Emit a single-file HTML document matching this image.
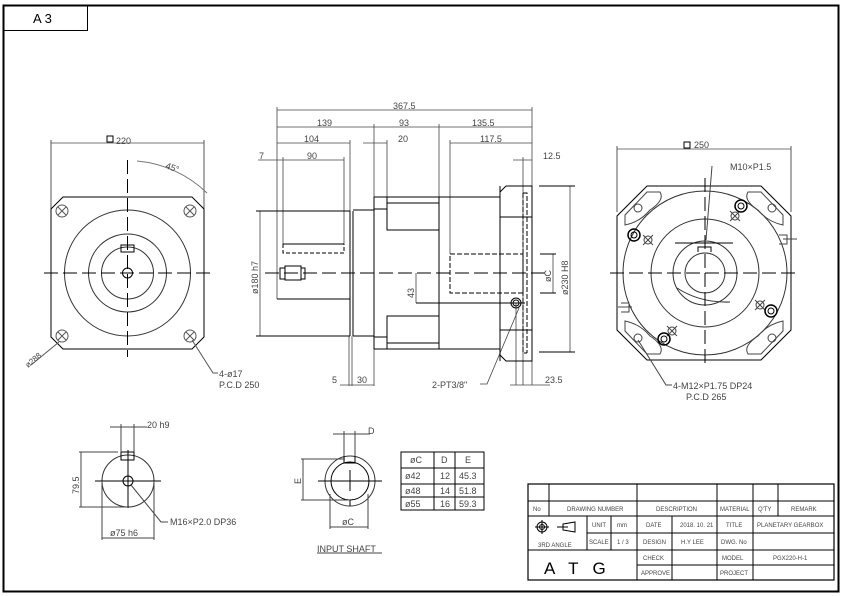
<!DOCTYPE html>
<html><head><meta charset="utf-8"><style>
html,body{margin:0;padding:0;background:#fff;}
svg{display:block;}
text{font-family:"Liberation Sans",sans-serif;fill:#444;}
</style></head><body>
<svg width="842" height="596" viewBox="0 0 842 596" xmlns="http://www.w3.org/2000/svg">
<rect x="0" y="0" width="842" height="596" fill="#fff"/>
<!-- frame -->
<rect x="3.5" y="5.5" width="835" height="586" fill="none" stroke="#000" stroke-width="2"/>
<rect x="3.5" y="5.5" width="84" height="25" fill="none" stroke="#000" stroke-width="1"/>
<text x="33" y="23" font-size="13" style="fill:#000">A 3</text>

<g fill="none" stroke="#000" stroke-width="1">
<!-- LEFT VIEW -->
<line x1="51" y1="143" x2="204" y2="143" stroke="#777"/>
<line x1="51" y1="140" x2="51" y2="210" stroke="#555"/>
<line x1="204" y1="140" x2="204" y2="210" stroke="#555"/>
<path d="M63 197 H192 L204 209 V337 L192 349 H63 L51 337 V209 Z"/>
<circle cx="127.5" cy="273" r="63" stroke="#333"/>
<circle cx="127.5" cy="273" r="39" stroke="#333"/>
<circle cx="127.5" cy="273" r="26" stroke="#333"/>
<circle cx="127.5" cy="273" r="5"/>
<rect x="121" y="245" width="13" height="7"/>
<line x1="44" y1="273" x2="212" y2="273" stroke-dasharray="14,5"/>
<line x1="127.5" y1="160" x2="127.5" y2="357" stroke-dasharray="14,5"/>
<path d="M137 161 A115 115 0 0 1 207 193" stroke="#777"/>
<g stroke="#555">
<circle cx="62" cy="211" r="6"/><path d="M58 207 l8 8 M66 207 l-8 8"/>
<circle cx="190" cy="211" r="6"/><path d="M186 207 l8 8 M194 207 l-8 8"/>
<circle cx="62" cy="336" r="6"/><path d="M58 332 l8 8 M66 332 l-8 8"/>
<circle cx="190" cy="336" r="6"/><path d="M186 332 l8 8 M194 332 l-8 8"/>
<path d="M192 340 L213 373 H218"/>
<path d="M59 342 L31 365"/>
</g>
<rect x="107" y="136" width="6" height="6" stroke="#000"/>

<!-- MIDDLE VIEW dims -->
<g stroke="#444" stroke-width="0.8">
<line x1="277" y1="110" x2="532" y2="110"/>
<line x1="277" y1="127" x2="532" y2="127"/>
<line x1="277" y1="143" x2="350" y2="143"/>
<line x1="363" y1="143" x2="387" y2="143"/>
<line x1="450" y1="143" x2="532" y2="143"/>
<line x1="258" y1="160" x2="344" y2="160"/>
<line x1="513" y1="160" x2="532" y2="160"/>
<line x1="277" y1="107" x2="277" y2="299"/>
<line x1="532" y1="107" x2="532" y2="385"/>
<line x1="374" y1="124" x2="374" y2="197"/>
<line x1="439" y1="124" x2="439" y2="197"/>
<line x1="350" y1="140" x2="350" y2="211"/>
<line x1="387" y1="140" x2="387" y2="197"/>
<line x1="450" y1="140" x2="450" y2="254"/>
<line x1="283" y1="157" x2="283" y2="245"/>
<line x1="344" y1="157" x2="344" y2="245"/>
<line x1="523" y1="157" x2="523" y2="385"/>
<line x1="260" y1="211" x2="260" y2="336"/>
<line x1="570" y1="186" x2="570" y2="352"/>
<line x1="553" y1="254" x2="553" y2="293"/>
<line x1="416" y1="273" x2="416" y2="303"/>
<line x1="349" y1="336" x2="349" y2="386"/>
<line x1="352" y1="336" x2="352" y2="386"/>
<line x1="374" y1="349" x2="374" y2="386"/>
<line x1="340" y1="385" x2="374" y2="385"/>
<line x1="510" y1="385" x2="550" y2="385"/>
<line x1="516" y1="303" x2="516" y2="385"/>
<path d="M519 308 L487 384 H480"/>
</g>
<!-- MIDDLE VIEW body -->
<path d="M256 211 H350 M256 336 H350 M277 299 H350"/>
<path d="M350 211 V336 M353 211 V336"/>
<rect x="283" y="160" width="61" height="85" stroke="none"/>
<path d="M283 244 V253 H344 V244" stroke-dasharray="4,2"/>
<path d="M283 244 H344"/>
<path d="M280 268 h5 v11 h-5 Z M285 266 h16 v14 h-16 Z M301 268 h4 v11 h-4"/>
<path d="M353 210 H374 M353 336 H374"/>
<path d="M374 197 H500 M374 349 H500 M374 197 V349 M439 197 V349"/>
<path d="M374 209 H387 V230 H439 M387 209 V197 M387 203 H439"/>
<path d="M374 337 H387 V316 H439 M387 337 V349 M387 343 H439"/>
<path d="M500 186 V361 M506 186 H532 V361 H506 L500 355 M500 192 L506 186"/>
<path d="M500 217 H532 M500 330 H532"/>
<path d="M523 193 V353 H527 M523 193 H527 V353" stroke-dasharray="5,2"/>
<path d="M450 254 H523 V293 H450 Z" stroke-dasharray="5,2"/>
<line x1="265" y1="273" x2="545" y2="273" stroke-dasharray="14,5"/>
<line x1="416" y1="303" x2="525" y2="303"/>
<circle cx="516" cy="303" r="5"/><circle cx="516" cy="303" r="3"/>
<path d="M539 186 H575 M539 352 H575 M540 254 H556 M540 293 H556"/>

<!-- RIGHT VIEW -->
<line x1="617" y1="149" x2="791" y2="149" stroke="#777"/>
<line x1="617" y1="146" x2="617" y2="212" stroke="#555"/>
<line x1="791" y1="146" x2="791" y2="212" stroke="#555"/>
<rect x="684" y="142" width="6" height="6"/>
<path d="M647 186 H761 L791 216 V330 L761 360 H647 L617 330 V216 Z"/>
<circle cx="705" cy="273" r="82" stroke="#333"/>
<circle cx="705" cy="273" r="54" stroke="#333"/>
<circle cx="705" cy="273" r="32" stroke="#333"/>
<circle cx="705" cy="273" r="20" stroke="#333"/>
<path d="M677 288 Q700 303 730 302" stroke="#333"/>
<path d="M698 252 V247 H711 V252" />
<line x1="610" y1="273" x2="800" y2="273" stroke-dasharray="14,5"/>
<line x1="705" y1="178" x2="705" y2="368" stroke-dasharray="14,5"/>
<line x1="675" y1="243" x2="733" y2="243"/>
<g stroke="#444">
<path d="M647 192 H660 Q665 200 650 210 Q640 222 625 225 V215 Z"/>
<path d="M761 192 H748 Q743 200 758 210 Q768 222 783 225 V215 Z"/>
<path d="M647 354 H660 Q665 346 650 336 Q640 324 625 321 V331 Z"/>
<path d="M761 354 H748 Q743 346 758 336 Q768 324 783 321 V331 Z"/>
<circle cx="638" cy="208" r="4"/><circle cx="772" cy="208" r="4"/>
<circle cx="638" cy="338" r="4"/><circle cx="772" cy="338" r="4"/>
<circle cx="648" cy="240" r="4"/><circle cx="735" cy="216" r="4"/>
<circle cx="760" cy="305" r="4"/><circle cx="672" cy="331" r="4"/>
<path d="M643 235 l10 10 M653 235 l-10 10 M730 211 l10 10 M740 211 l-10 10 M755 300 l10 10 M765 300 l-10 10 M667 326 l10 10 M677 326 l-10 10"/>
<path d="M712 166 L706 240 M638 340 L666 385 H672"/>
<path d="M783 239 H797 M618 307 H632 M779 235 h8 v9 h-8 M621 303 h8 v9 h-8"/>
</g>
<circle cx="634" cy="235" r="6" stroke-width="1.5"/><circle cx="634" cy="235" r="3"/>
<circle cx="741" cy="206" r="6" stroke-width="1.5"/><circle cx="741" cy="206" r="3"/>
<circle cx="771" cy="311" r="6" stroke-width="1.5"/><circle cx="771" cy="311" r="3"/>
<circle cx="664" cy="339" r="6" stroke-width="1.5"/><circle cx="664" cy="339" r="3"/>

<!-- BOTTOM LEFT -->
<circle cx="128" cy="481" r="26" stroke="#333"/>
<circle cx="128" cy="481" r="5"/>
<rect x="121" y="452" width="13" height="8"/>
<line x1="95" y1="481" x2="161" y2="481"/>
<line x1="128" y1="450" x2="128" y2="508"/>
<g stroke="#444">
<line x1="110" y1="427" x2="147" y2="427"/>
<line x1="121" y1="424" x2="121" y2="452"/><line x1="134" y1="424" x2="134" y2="452"/>
<line x1="81" y1="452" x2="81" y2="507"/>
<line x1="79" y1="452" x2="118" y2="452"/><line x1="79" y1="507" x2="128" y2="507"/>
<line x1="102" y1="481" x2="102" y2="540"/><line x1="154" y1="481" x2="154" y2="540"/>
<line x1="102" y1="538" x2="154" y2="538"/>
<path d="M131 485 L161 522 H168"/>
</g>

<!-- INPUT SHAFT -->
<circle cx="350" cy="481" r="25" stroke="#333"/>
<circle cx="350" cy="481" r="19"/>
<line x1="318" y1="481" x2="382" y2="481"/>
<line x1="350" y1="470" x2="350" y2="491"/>
<path d="M344 456 V463 H355 V456 M350 500 V506"/>
<g stroke="#444">
<line x1="333" y1="434" x2="370" y2="434"/>
<line x1="344" y1="431" x2="344" y2="456"/><line x1="355" y1="431" x2="355" y2="456"/>
<line x1="303" y1="459" x2="303" y2="500"/>
<line x1="301" y1="459" x2="345" y2="459"/><line x1="301" y1="500" x2="350" y2="500"/>
<line x1="330" y1="494" x2="330" y2="529"/><line x1="368" y1="494" x2="368" y2="529"/>
<line x1="330" y1="527" x2="368" y2="527"/>
<line x1="317" y1="553" x2="382" y2="553"/>
</g>
<rect x="401" y="452" width="83" height="58"/>
<path d="M401 468 H484 M401 484 H484 M401 497 H484 M434 452 V510 M455 452 V510"/>

<!-- TITLE BLOCK -->
<rect x="528" y="484" width="306" height="96" stroke-width="1.2"/>
<path d="M528 501 H834 M528 516 H834 M587 533 H637 M637 533 H834 M637 550 H834 M528 550 H637 M637 565 H834"/>
<path d="M549 484 V516 M637 484 V580 M717 484 V580 M753 484 V516 M778 484 V516 M753 516 V580 M672 516 V580 M587 516 V550 M611 516 V550"/>
<circle cx="542" cy="527" r="5"/><circle cx="542" cy="527" r="2.5"/>
<path d="M535 527 H549 M542 520 V534 M557 527 H568 M563 524 L575 522 V532 L563 530 Z"/>
</g>

<!-- TEXT -->
<g font-size="9">
<text x="116" y="144">220</text>
<text x="165" y="168" transform="rotate(20 165 168)">45°</text>
<text x="28" y="368" transform="rotate(-40 28 368)" font-size="8">ø288</text>
<text x="219" y="377">4-ø17</text>
<text x="219" y="388">P.C.D 250</text>
<text x="393" y="109">367.5</text>
<text x="317" y="126">139</text>
<text x="399" y="126">93</text>
<text x="472" y="126">135.5</text>
<text x="304" y="142">104</text>
<text x="398" y="142">20</text>
<text x="480" y="142">117.5</text>
<text x="259" y="159">7</text>
<text x="307" y="159">90</text>
<text x="543" y="159">12.5</text>
<text x="258" y="294" transform="rotate(-90 258 294)">ø180 h7</text>
<text x="414" y="298" transform="rotate(-90 414 298)">43</text>
<text x="551" y="282" transform="rotate(-90 551 282)">øC</text>
<text x="568" y="295" transform="rotate(-90 568 295)">ø230 H8</text>
<text x="332" y="383">5</text>
<text x="357" y="383">30</text>
<text x="432" y="388">2-PT3/8"</text>
<text x="545" y="383">23.5</text>
<text x="694" y="148">250</text>
<text x="730" y="170">M10×P1.5</text>
<text x="673" y="389">4-M12×P1.75 DP24</text>
<text x="686" y="400">P.C.D 265</text>
<text x="147" y="428">20 h9</text>
<text x="79" y="494" transform="rotate(-90 79 494)">79.5</text>
<text x="170" y="525">M16×P2.0 DP36</text>
<text x="110" y="536">ø75 h6</text>
<text x="368" y="434">D</text>
<text x="301" y="484" transform="rotate(-90 301 484)">E</text>
<text x="342" y="525">øC</text>
<text x="317" y="552">INPUT SHAFT</text>
<text x="410" y="463">øC</text><text x="441" y="463">D</text><text x="465" y="463">E</text>
<text x="405" y="479">ø42</text><text x="440" y="479">12</text><text x="459" y="479">45.3</text>
<text x="405" y="494">ø48</text><text x="440" y="494">14</text><text x="459" y="494">51.8</text>
<text x="405" y="507">ø55</text><text x="440" y="507">16</text><text x="459" y="507">59.3</text>
</g>
<g font-size="6" style="fill:#000">
<text x="533" y="511">No</text>
<text x="567" y="511">DRAWING NUMBER</text>
<text x="656" y="511">DESCRIPTION</text>
<text x="720" y="511">MATERIAL</text>
<text x="758" y="511">Q'TY</text>
<text x="791" y="511">REMARK</text>
<text x="592" y="527">UNIT</text><text x="617" y="527">mm</text>
<text x="589" y="544">SCALE</text><text x="617" y="544">1 / 3</text>
<text x="538" y="547">3RD ANGLE</text>
<text x="646" y="527">DATE</text><text x="680" y="527">2018. 10. 21</text>
<text x="726" y="527">TITLE</text><text x="757" y="527">PLANETARY GEARBOX</text>
<text x="643" y="544">DESIGN</text><text x="681" y="544">H.Y LEE</text>
<text x="721" y="544">DWG. No</text>
<text x="643" y="560">CHECK</text><text x="722" y="560">MODEL</text>
<text x="773" y="560">PGX220-H-1</text>
<text x="641" y="575">APPROVE</text><text x="720" y="575">PROJECT</text>
</g>
<text x="544" y="574" font-size="17" letter-spacing="14" style="fill:#000">ATG</text>
</svg>
</body></html>
